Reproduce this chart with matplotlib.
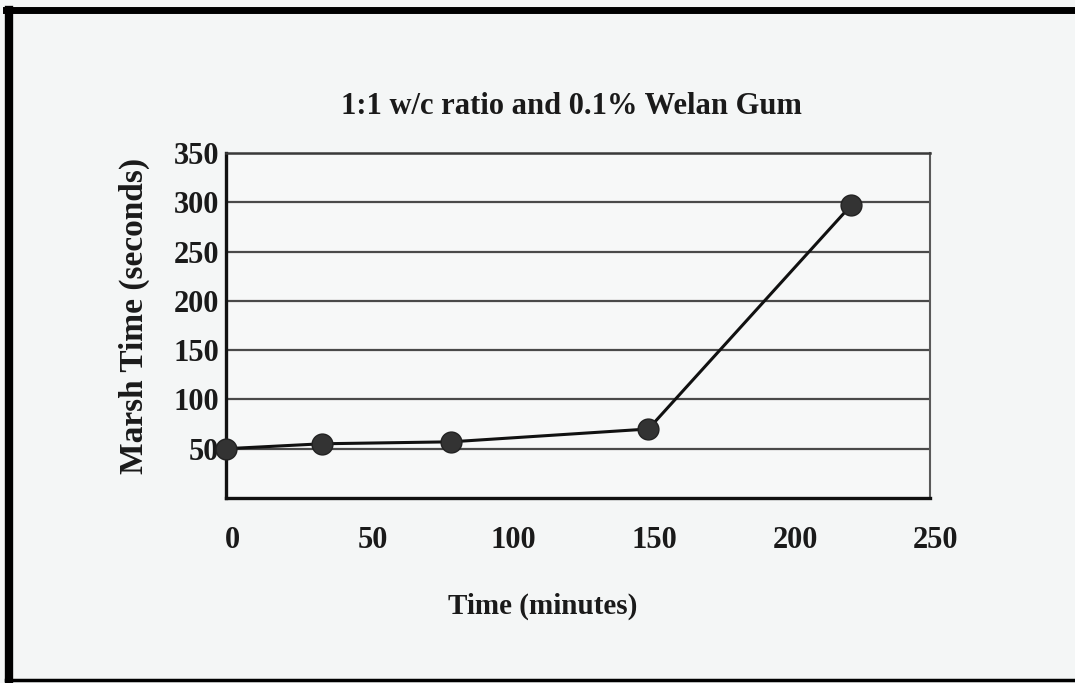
import matplotlib
matplotlib.use('Agg')
import matplotlib.pyplot as plt
import matplotlib.transforms as mtransforms
from matplotlib.lines import Line2D

# Data
time_min = [0, 34, 80, 150, 222]
marsh_sec = [50, 55, 57, 70, 297]
x_ticks = [0, 50, 100, 150, 200, 250]
y_ticks = [50, 100, 150, 200, 250, 300, 350]

plt.rcParams['font.family'] = ['Liberation Serif', 'DejaVu Serif']
plt.rcParams['font.weight'] = 'bold'

fig = plt.figure(figsize=(10.75, 6.83), dpi=100, facecolor='#f4f6f6')
ax = fig.add_axes([226 / 1075, 1 - 498 / 683, 704 / 1075, 345 / 683])
ax.set_facecolor('#f7f8f8')

# Horizontal grid lines
for y in y_ticks:
    ax.axhline(y, color='#4a4a4a', lw=1.6, zorder=1)

ax.plot(time_min, marsh_sec, color='#111111', lw=2.2, marker='o',
        markersize=15, markerfacecolor='#333333', markeredgecolor='#222222',
        zorder=3, clip_on=False)

ax.set_xlim(0, 250)
ax.set_ylim(0, 350)
ax.set_xticks(x_ticks)
ax.set_yticks(y_ticks)
ax.tick_params(axis='both', length=0, labelsize=22, colors='#1a1a1a')
ax.tick_params(axis='x', pad=20)
ax.tick_params(axis='y', pad=5)

# x tick labels sit a little right of their ticks in the scan
shift = mtransforms.ScaledTranslation(6 / 100, 0, fig.dpi_scale_trans)
for lab in ax.get_xticklabels():
    lab.set_transform(lab.get_transform() + shift)

for side in ['left', 'bottom']:
    ax.spines[side].set_linewidth(2.4)
    ax.spines[side].set_color('#111111')
ax.spines['top'].set_linewidth(1.8)
ax.spines['top'].set_color('#3a3a3a')
ax.spines['right'].set_linewidth(1.5)
ax.spines['right'].set_color('#5a5a5a')

ax.set_xlabel('Time (minutes)', fontsize=21, fontweight='bold', color='#1a1a1a')
ax.set_ylabel('Marsh Time (seconds)', fontsize=24, fontweight='bold', color='#1a1a1a')
ax.xaxis.set_label_coords(0.45, -0.275)
ax.yaxis.set_label_coords(-0.108, 0.528)
fig.text(571 / 1075, 1 - 107 / 683, '1:1 w/c ratio and 0.1% Welan Gum',
         ha='center', va='center', fontsize=22, fontweight='bold', color='#1a1a1a')

# Black scan border on left, top and bottom
fig.add_artist(Line2D([9 / 1075, 9 / 1075], [0, 1 - 10 / 683], transform=fig.transFigure,
                      color='black', lw=6))
fig.add_artist(Line2D([6 / 1075, 1], [1 - 10 / 683, 1 - 10 / 683], transform=fig.transFigure,
                      color='black', lw=5))
fig.add_artist(Line2D([6 / 1075, 1], [1 - 680 / 683, 1 - 680 / 683], transform=fig.transFigure,
                      color='black', lw=2.5))

fig.savefig('out.png', dpi=100, facecolor=fig.get_facecolor())
